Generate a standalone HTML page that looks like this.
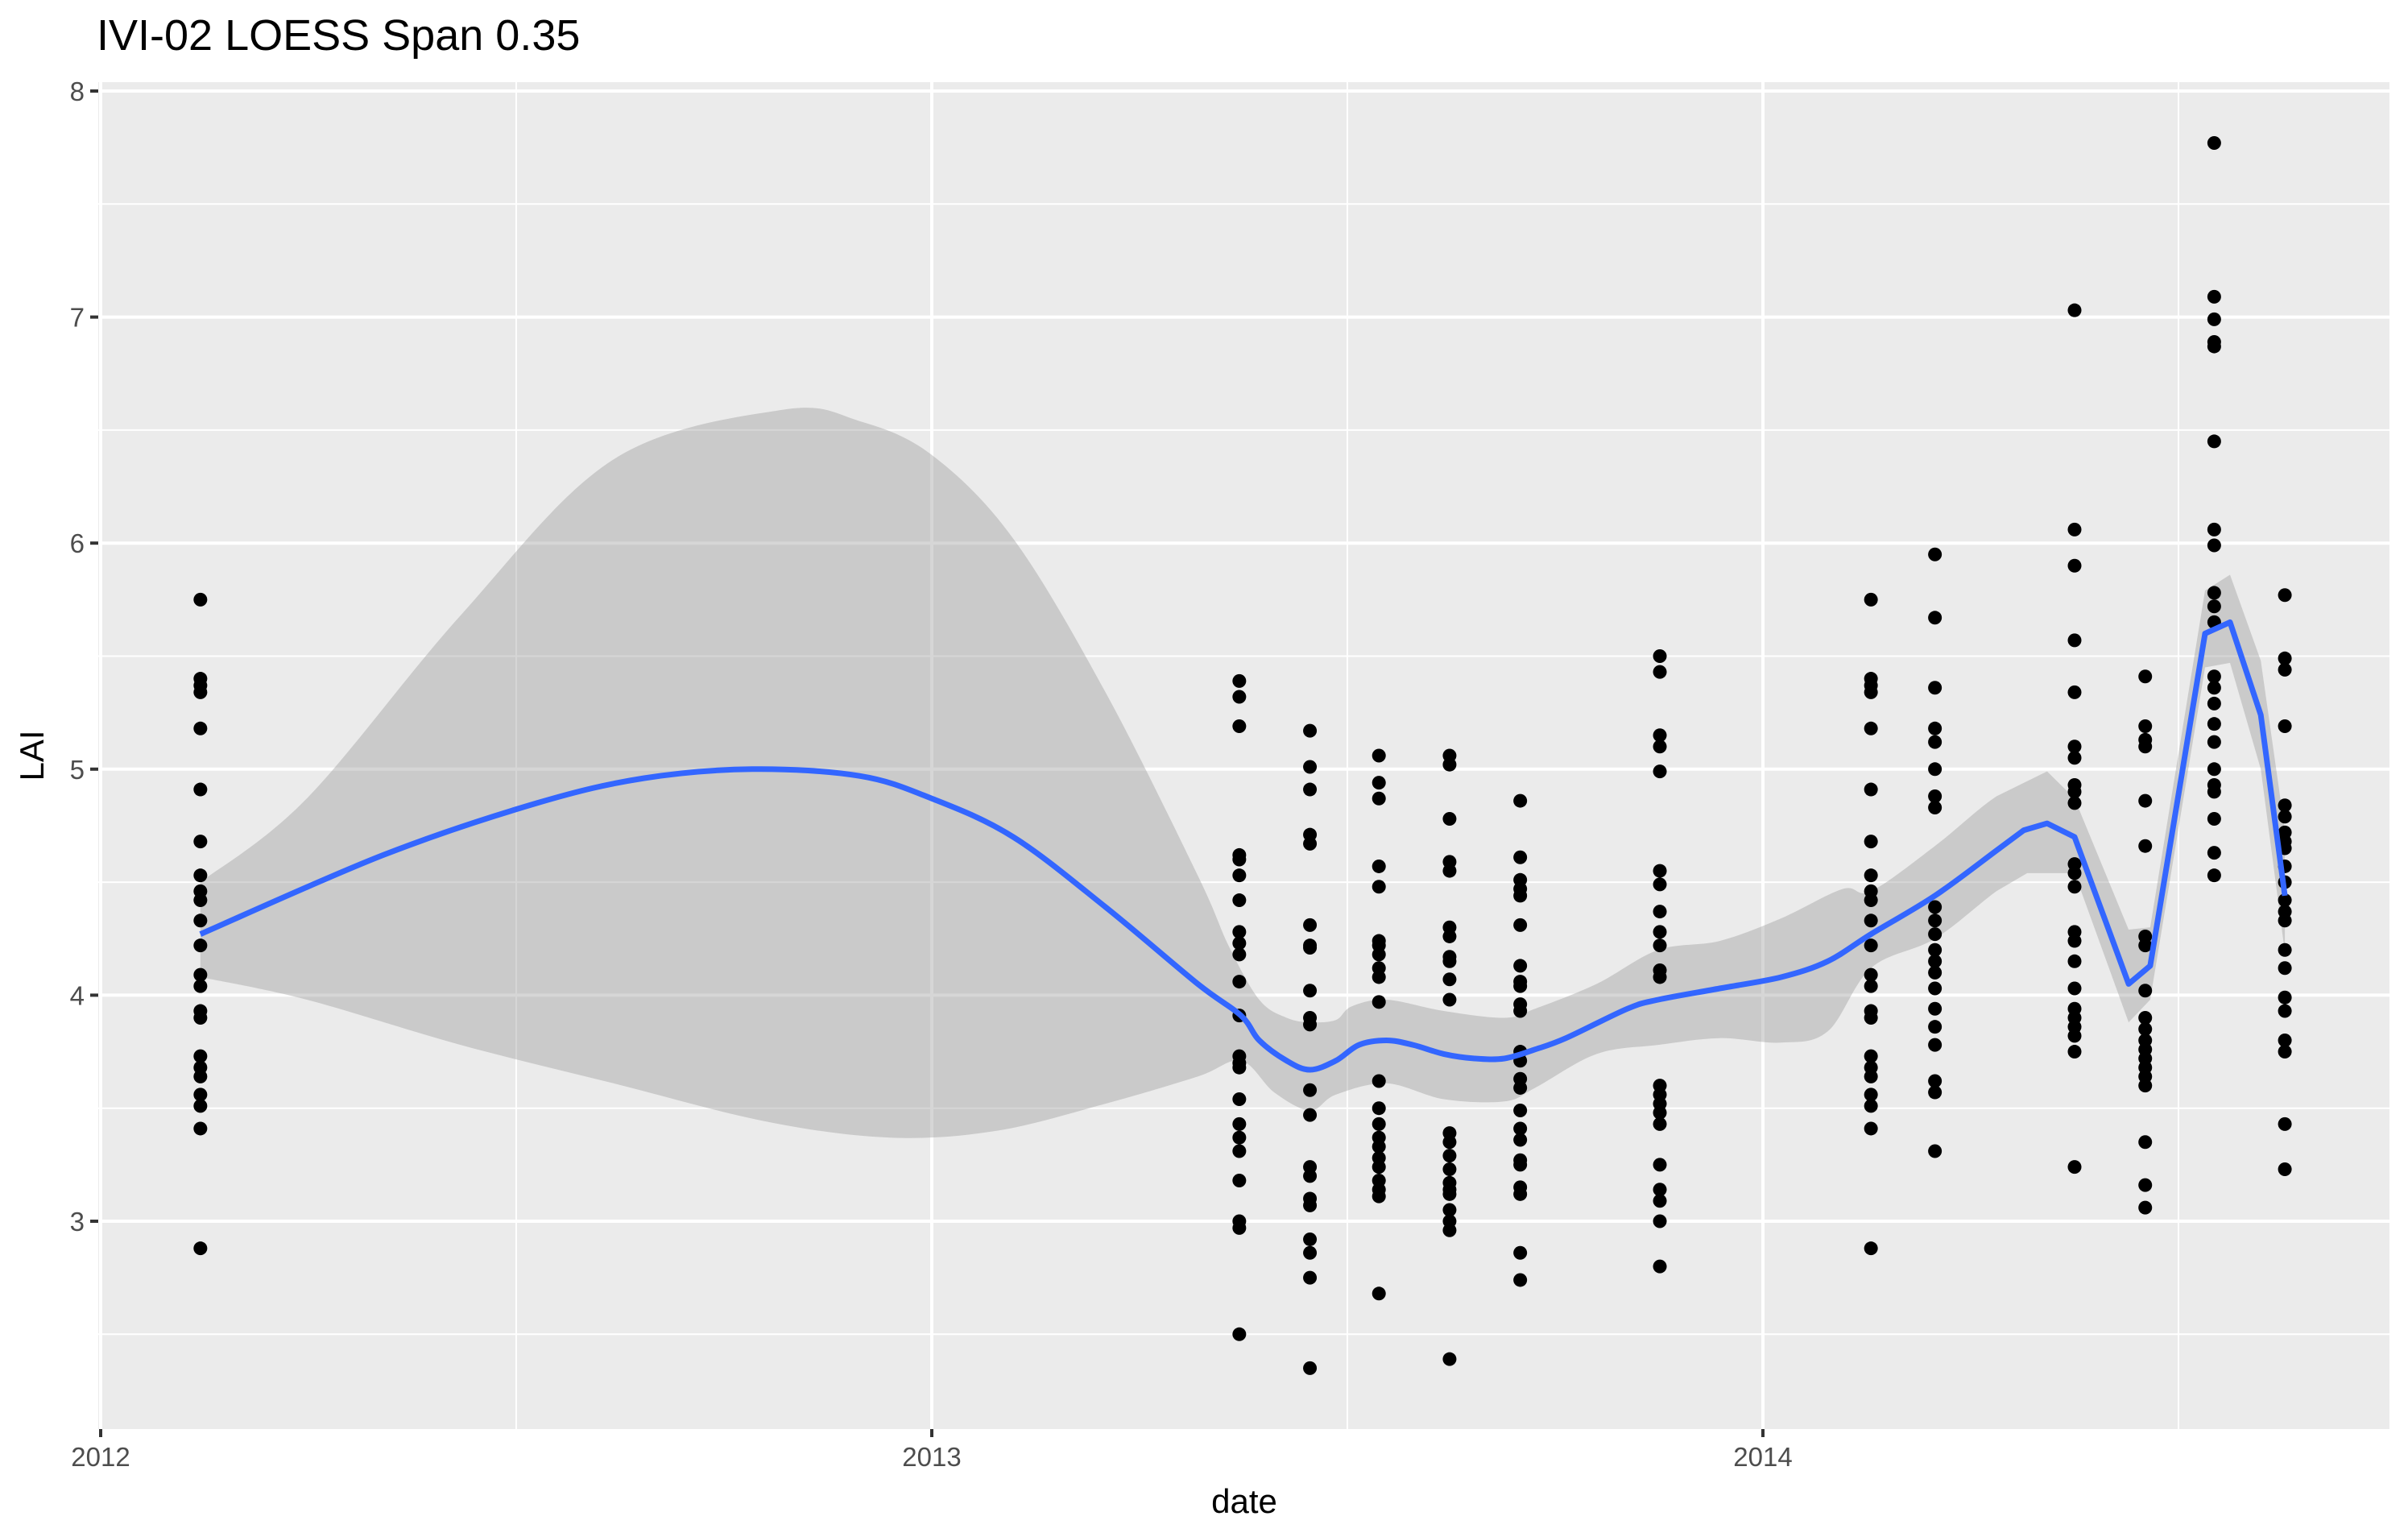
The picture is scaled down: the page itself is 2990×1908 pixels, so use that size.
<!DOCTYPE html>
<html><head><meta charset="utf-8"><style>
body{margin:0;background:#fff}
svg text{font-family:"Liberation Sans",Arial,sans-serif}
</style></head><body>
<svg id="chart" width="2990" height="1903" viewBox="0 0 2990 1903" xmlns="http://www.w3.org/2000/svg">
<text x="120" y="62" font-size="54" fill="#000">IVI-02 LOESS Span 0.35</text>
<rect x="122" y="102" width="2845" height="1672" fill="#ebebeb"/>
<g id="grid"></g><g id="band"></g><g id="pts"></g><g id="line"></g><g id="axes"></g>
<text x="1545" y="1878" font-size="42" text-anchor="middle" fill="#000">date</text>
<text transform="translate(54,938) rotate(-90)" font-size="42" text-anchor="middle" fill="#000">LAI</text>
</svg>
<script>
const yTicks=[3,4,5,6,7,8];
const yMinor=[2.5,3.5,4.5,5.5,6.5,7.5];
const xTicks=[2012,2013,2014];
const xTickLabels=["2012","2013","2014"];
const xMinor=[2012.5,2013.5,2014.5];
const obsDates=[2012.12,2013.37,2013.455,2013.538,2013.623,2013.708,2013.876,2014.13,2014.207,2014.375,2014.46,2014.543,2014.628];
const obsValues=[
[5.75,5.4,5.37,5.34,5.18,4.91,4.68,4.53,4.46,4.42,4.33,4.22,4.09,4.04,3.93,3.9,3.73,3.68,3.64,3.56,3.51,3.41,2.88],
[5.39,5.32,5.19,4.62,4.6,4.53,4.42,4.28,4.23,4.18,4.06,3.91,3.73,3.7,3.68,3.54,3.43,3.37,3.31,3.18,3.0,2.97,2.5],
[5.17,5.01,4.91,4.71,4.67,4.31,4.22,4.21,4.02,3.9,3.87,3.58,3.47,3.24,3.2,3.1,3.07,2.92,2.86,2.75,2.35],
[5.06,4.94,4.87,4.57,4.48,4.24,4.22,4.18,4.12,4.08,3.97,3.62,3.5,3.43,3.37,3.33,3.28,3.24,3.18,3.14,3.11,2.68],
[5.06,5.02,4.78,4.59,4.55,4.3,4.26,4.17,4.15,4.07,3.98,3.39,3.35,3.29,3.23,3.17,3.14,3.12,3.05,3.0,2.96,2.39],
[4.86,4.61,4.51,4.47,4.44,4.31,4.13,4.06,4.04,3.96,3.93,3.75,3.71,3.63,3.59,3.49,3.41,3.36,3.27,3.25,3.15,3.12,2.86,2.74],
[5.5,5.43,5.15,5.1,4.99,4.55,4.49,4.37,4.28,4.22,4.11,4.08,3.6,3.56,3.52,3.48,3.43,3.25,3.14,3.09,3.0,2.8],
[5.75,5.4,5.37,5.34,5.18,4.91,4.68,4.53,4.46,4.42,4.33,4.22,4.09,4.04,3.93,3.9,3.73,3.68,3.64,3.56,3.51,3.41,2.88],
[5.95,5.67,5.36,5.18,5.12,5.0,4.88,4.83,4.39,4.33,4.27,4.2,4.15,4.1,4.03,3.94,3.86,3.78,3.62,3.57,3.31],
[7.03,6.06,5.9,5.57,5.34,5.1,5.05,4.93,4.9,4.85,4.58,4.54,4.48,4.28,4.24,4.15,4.03,3.94,3.9,3.86,3.82,3.75,3.24],
[5.41,5.19,5.13,5.1,4.86,4.66,4.26,4.22,4.02,3.9,3.85,3.8,3.76,3.72,3.68,3.64,3.6,3.35,3.16,3.06],
[7.77,7.09,6.99,6.89,6.87,6.45,6.06,5.99,5.78,5.72,5.65,5.41,5.36,5.29,5.2,5.12,5.0,4.93,4.9,4.78,4.63,4.53],
[5.77,5.49,5.44,5.19,4.84,4.79,4.72,4.68,4.65,4.57,4.5,4.42,4.37,4.33,4.2,4.12,3.99,3.93,3.8,3.75,3.43,3.23]];
const fitDates=[2012.12,2012.34,2012.525,2012.654,2012.784,2012.913,2013.0,2013.098,2013.209,2013.32,2013.372,2013.394,2013.427,2013.455,2013.486,2013.514,2013.547,2013.579,2013.616,2013.653,2013.689,2013.726,2013.763,2013.837,2013.874,2013.948,2014.022,2014.078,2014.13,2014.207,2014.281,2014.314,2014.342,2014.375,2014.44,2014.466,2014.532,2014.562,2014.599,2014.628];
const fitValues=[4.27,4.62,4.85,4.96,5.0,4.97,4.87,4.70,4.39,4.05,3.91,3.80,3.71,3.67,3.71,3.78,3.80,3.78,3.74,3.72,3.72,3.76,3.81,3.94,3.98,4.03,4.08,4.15,4.27,4.44,4.64,4.73,4.76,4.70,4.05,4.13,5.60,5.65,5.24,4.44];
const upperDates=[2012.12,2012.248,2012.433,2012.617,2012.821,2012.913,2013.0,2013.098,2013.209,2013.32,2013.357,2013.394,2013.427,2013.455,2013.486,2013.505,2013.547,2013.616,2013.689,2013.726,2013.8,2013.874,2013.948,2014.022,2014.096,2014.13,2014.207,2014.281,2014.342,2014.375,2014.44,2014.466,2014.532,2014.562,2014.599,2014.628];
const upperValues=[4.5,4.87,5.68,6.37,6.59,6.54,6.39,6.02,5.34,4.53,4.22,3.98,3.9,3.88,3.89,3.95,3.98,3.93,3.9,3.94,4.05,4.2,4.24,4.34,4.47,4.46,4.66,4.88,4.99,4.87,4.29,4.30,5.79,5.86,5.48,4.73];
const lowerDates=[2012.12,2012.248,2012.433,2012.617,2012.802,2012.95,2013.078,2013.209,2013.32,2013.372,2013.412,2013.455,2013.486,2013.547,2013.616,2013.689,2013.726,2013.8,2013.874,2013.948,2014.022,2014.078,2014.13,2014.207,2014.281,2014.318,2014.375,2014.44,2014.466,2014.532,2014.562,2014.599,2014.628];
const lowerValues=[4.08,3.98,3.78,3.61,3.44,3.37,3.40,3.52,3.64,3.71,3.57,3.49,3.56,3.61,3.54,3.53,3.59,3.74,3.78,3.81,3.79,3.84,4.12,4.25,4.46,4.54,4.54,3.88,3.98,5.45,5.47,5.0,4.19];

const NS='http://www.w3.org/2000/svg';
const X0=122,X1=2967,Y0=102,Y1=1774;
const SMOOTH_END=2014.3;
function xs(t){return 125+(t-2012)*1032;}
function ys(v){return 113+(8-v)*280.6;}
function mk(tag,parent,attrs){const e=document.createElementNS(NS,tag);for(const k in attrs)e.setAttribute(k,attrs[k]);document.getElementById(parent).appendChild(e);return e;}
// Catmull-Rom through points; segments past cutoff drawn straight
function smooth(P,start){const xc=xs(SMOOTH_END);let d=(start?'M':'L')+P[0][0].toFixed(1)+','+P[0][1].toFixed(1);
for(let i=0;i<P.length-1;i++){const p1=P[i],p2=P[i+1];
if(p1[0]>xc||p2[0]>xc){d+='L'+p2[0].toFixed(1)+','+p2[1].toFixed(1);continue;}
const p0=P[i-1]||p1,p3=P[i+2]||p2;
const c1=[p1[0]+(p2[0]-p0[0])/6,p1[1]+(p2[1]-p0[1])/6],c2=[p2[0]-(p3[0]-p1[0])/6,p2[1]-(p3[1]-p1[1])/6];
d+='C'+c1[0].toFixed(1)+','+c1[1].toFixed(1)+' '+c2[0].toFixed(1)+','+c2[1].toFixed(1)+' '+p2[0].toFixed(1)+','+p2[1].toFixed(1);}
return d;}

yMinor.forEach(v=>{const e=mk('line','grid',{x1:X0,x2:X1,y1:ys(v),y2:ys(v),stroke:'#fff','stroke-width':2});

});
xMinor.forEach(t=>{const e=mk('line','grid',{x1:xs(t),x2:xs(t),y1:Y0,y2:Y1,stroke:'#fff','stroke-width':2});

});
yTicks.forEach(v=>{const e=mk('line','grid',{x1:X0,x2:X1,y1:ys(v),y2:ys(v),stroke:'#fff','stroke-width':4});


const t=mk('line','axes',{x1:X0-10,x2:X0,y1:ys(v),y2:ys(v),stroke:'#333','stroke-width':4});


const l=mk('text','axes',{x:X0-17,y:ys(v)+12,'font-size':33,'text-anchor':'end',fill:'#4d4d4d'});l.textContent=String(v);

});
xTicks.forEach((tv,i)=>{const e=mk('line','grid',{x1:xs(tv),x2:xs(tv),y1:Y0,y2:Y1,stroke:'#fff','stroke-width':4});


const t=mk('line','axes',{x1:xs(tv),x2:xs(tv),y1:Y1,y2:Y1+10,stroke:'#333','stroke-width':4});


const l=mk('text','axes',{x:xs(tv),y:Y1+46,'font-size':33,'text-anchor':'middle',fill:'#4d4d4d'});l.textContent=xTickLabels[i];

});

const UP=upperDates.map((t,i)=>[xs(t),ys(upperValues[i])]);
const LO=lowerDates.map((t,i)=>[xs(t),ys(lowerValues[i])]).reverse();
const band=mk('path','band',{d:smooth(UP,true)+smooth(LO,false)+'Z',fill:'#999999','fill-opacity':0.4});



obsDates.forEach((t,i)=>{obsValues[i].forEach(v=>{const c=mk('circle','pts',{cx:xs(t),cy:ys(v),r:8.5,fill:'#000'});

});});

const FP=fitDates.map((t,i)=>[xs(t),ys(fitValues[i])]);
const ln=mk('path','line',{d:smooth(FP,true),fill:'none',stroke:'#3366FF','stroke-width':7,'stroke-linejoin':'round'});


</script>
</body></html>
